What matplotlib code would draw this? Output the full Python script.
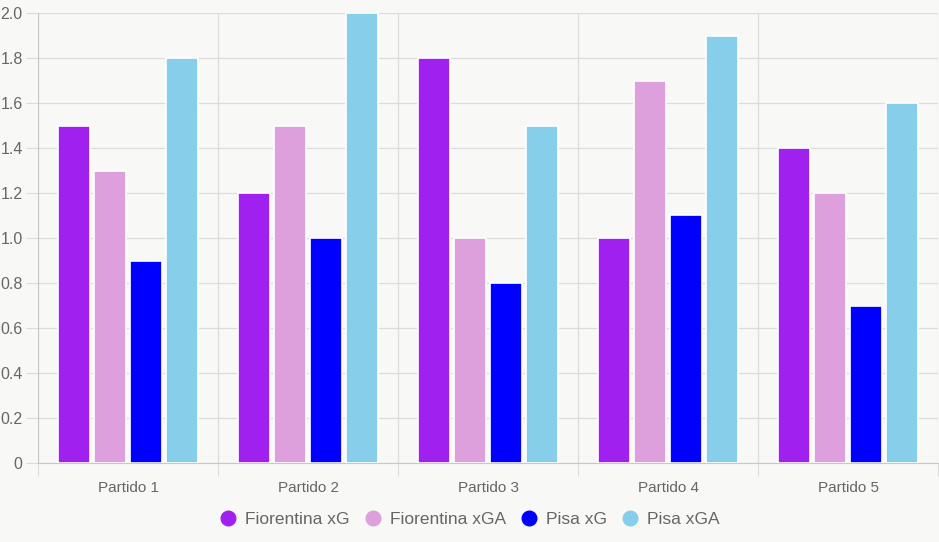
import numpy as np
import matplotlib
matplotlib.use("Agg")
import matplotlib.pyplot as plt
from matplotlib.lines import Line2D

partidos = ["Partido 1", "Partido 2", "Partido 3", "Partido 4", "Partido 5"]
fio_xg = [1.5, 1.2, 1.8, 1.0, 1.4]
fio_xga = [1.3, 1.5, 1.0, 1.7, 1.2]
pisa_xg = [0.9, 1.0, 0.8, 1.1, 0.7]
pisa_xga = [1.8, 2.0, 1.5, 1.9, 1.6]

series = [("Fiorentina xG", fio_xg, "#a020f0"),
          ("Fiorentina xGA", fio_xga, "#dda0dd"),
          ("Pisa xG", pisa_xg, "#0000ff"),
          ("Pisa xGA", pisa_xga, "#87ceeb")]

plt.rcParams.update({"font.family": ["Liberation Sans", "DejaVu Sans"]})
bg = "#f8f8f6"
grid = "#dcdcdc"
txt = "#666666"

fig = plt.figure(figsize=(9.39, 5.42), dpi=100, facecolor=bg)
ax = fig.add_axes([38 / 939, 79 / 542, 900 / 939, 450 / 542])
ax.set_facecolor(bg)

x = np.arange(len(partidos))
slot = 0.8 / len(series)
for j, (name, vals, col) in enumerate(series):
    ax.bar(x + (j - 1.5) * slot, vals, slot * 0.9, color=col,
           edgecolor="white", linewidth=1.2, zorder=3)

ax.set_xlim(-0.5, len(partidos) - 0.5)
ax.set_ylim(0, 2.0)
ax.set_yticks(np.arange(0, 2.01, 0.2))
ax.set_yticklabels(["0"] + [f"{v:.1f}" for v in np.arange(0.2, 2.01, 0.2)])
ax.set_xticks(np.arange(-0.5, len(partidos), 1.0))
ax.set_xticklabels([])
ax.set_xticks(x, minor=True)
ax.set_xticklabels(partidos, minor=True)
ax.tick_params(axis="x", which="minor", length=0, pad=13)
ax.tick_params(axis="both", which="major", length=9, color=grid,
               labelcolor=txt, labelsize=11.5)
ax.tick_params(axis="y", which="major", pad=2)
ax.tick_params(axis="x", which="minor", labelcolor=txt, labelsize=11)
ax.grid(True, which="major", color=grid, lw=0.9, zorder=0)
for s in ["top", "right"]:
    ax.spines[s].set_visible(False)
for s in ["left", "bottom"]:
    ax.spines[s].set_color("#c8c8c8")

handles = [Line2D([], [], marker="o", ls="", markersize=10.5, color=c)
           for _, _, c in series]
fig.legend(handles, [s[0] for s in series], loc="center", ncol=4,
           bbox_to_anchor=(0.5, 23 / 542), frameon=False, fontsize=12.5,
           labelcolor=txt, handletextpad=0.5, columnspacing=0.8,
           handlelength=1.0)

fig.savefig("out.png", dpi=100, facecolor=bg)
